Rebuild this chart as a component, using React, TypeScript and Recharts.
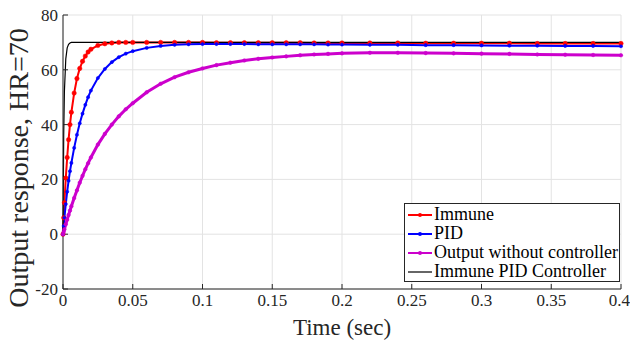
import { LineChart, Line, XAxis, YAxis, CartesianGrid } from "recharts";

const time = [
  0, 0.0005, 0.001, 0.002, 0.003, 0.004, 0.005, 0.006, 0.008, 0.01, 0.012, 0.014, 0.016, 0.018,
  0.02, 0.025, 0.03, 0.035, 0.04, 0.045, 0.05, 0.06, 0.07, 0.08, 0.09, 0.1, 0.11, 0.12, 0.13,
  0.14, 0.15, 0.16, 0.17, 0.18, 0.19, 0.2, 0.22, 0.24, 0.26, 0.28, 0.3, 0.32, 0.34, 0.36, 0.38,
  0.4,
];

const immune = [
  0, 6, 11.5, 20.5, 28, 34.5, 40, 44.5, 51.5, 56.8, 60.5, 63.1, 65, 66.5, 67.5, 68.9, 69.5, 69.8,
  70, 70, 70, 70, 70, 70, 70, 70, 69.9, 69.9, 69.9, 69.9, 69.9, 69.9, 69.9, 69.8, 69.8, 69.8,
  69.8, 69.8, 69.7, 69.7, 69.7, 69.7, 69.6, 69.6, 69.6, 69.6,
];

const pid = [
  0, 3, 6, 11, 15.5, 19.5, 23, 26, 31.5, 36.3, 40.5, 44, 47.2, 50, 52.4, 57, 60.3, 62.8, 64.6,
  65.9, 66.8, 68, 68.7, 69.1, 69.3, 69.4, 69.4, 69.4, 69.4, 69.3, 69.3, 69.3, 69.3, 69.3, 69.2,
  69.2, 69.1, 69.1, 69, 69, 68.9, 68.8, 68.8, 68.7, 68.7, 68.6,
];

const noController = [
  0, 0.9, 1.8, 3.6, 5.3, 7, 8.6, 10.2, 13.2, 16, 18.8, 21.3, 23.7, 25.9, 28, 32.7, 36.6, 40,
  43, 45.6, 47.8, 51.8, 54.9, 57.3, 59.1, 60.5, 61.7, 62.6, 63.4, 64, 64.5, 64.9, 65.3, 65.6,
  65.8, 66, 66.2, 66.2, 66.1, 66, 65.9, 65.8, 65.6, 65.5, 65.4, 65.3,
];

const immunePid = [
  0, 36, 52, 64, 68, 69.3, 69.8, 70, 70, 70, 70, 70, 70, 70, 70, 70, 70, 70, 70, 70, 70, 70, 70,
  70, 70, 70, 70, 70, 70, 70, 70, 70, 70, 70, 70, 70, 70, 70, 70, 70, 70, 70, 70, 70, 70, 70,
];

const xTicks = [0, 0.05, 0.1, 0.15, 0.2, 0.25, 0.3, 0.35, 0.4];
const yTicks = [-20, 0, 20, 40, 60, 80];

const data = time.map((t, i) => ({
  t,
  immune: immune[i],
  pid: pid[i],
  noController: noController[i],
  immunePid: immunePid[i],
}));

const series = [
  { key: "immune", name: "Immune", color: "#ff0000", dot: 2.2, width: 2 },
  { key: "pid", name: "PID", color: "#0000ff", dot: 1.6, width: 2 },
  { key: "noController", name: "Output without controller", color: "#cc00cc", dot: 1.8, width: 3 },
  { key: "immunePid", name: "Immune PID Controller", color: "#000000", dot: 0, width: 1.2 },
];

const font = "'Liberation Serif', 'DejaVu Serif', serif";
const axisColor = "#262626";

function LegendBox() {
  return (
    <div
      style={{
        position: "absolute",
        left: 404,
        top: 203,
        width: 214,
        height: 76,
        boxSizing: "content-box",
        background: "#fff",
        border: `1px solid ${axisColor}`,
        fontFamily: font,
        fontSize: 18,
        color: "#000",
        lineHeight: "19px",
        paddingTop: 1,
      }}
    >
      {series.map((s) => (
        <div key={s.key} style={{ display: "flex", alignItems: "center", whiteSpace: "nowrap", height: 19 }}>
          <svg width={24} height={10} style={{ marginLeft: 3, marginRight: 2 }}>
            <line x1={0} y1={5} x2={24} y2={5} stroke={s.color} strokeWidth={s.dot ? 2 : 1.2} />
            {s.dot ? <circle cx={12} cy={5} r={2} fill={s.color} /> : null}
          </svg>
          <span>{s.name}</span>
        </div>
      ))}
    </div>
  );
}

function YLabel(props: any) {
  const vb = props.viewBox || { x: 0, y: 15, width: 63, height: 274 };
  const cx = vb.x + 18;
  const cy = vb.y + vb.height / 2 + 16;
  return (
    <text
      x={cx}
      y={cy}
      transform={`rotate(-90, ${cx}, ${cy})`}
      textAnchor="middle"
      dominantBaseline="central"
      fill={axisColor}
      fontSize={28}
      fontFamily={font}
    >
      Output response, HR=70
    </text>
  );
}

export default function App() {
  return (
    <div style={{ position: "absolute", left: 0, top: 0, width: 630, height: 340, background: "#fff" }}>
      <style>{`.recharts-text, .recharts-label { font-family: ${font}; }`}</style>
      <LineChart
        width={630}
        height={340}
        data={data}
        margin={{ top: 15, right: 9, bottom: 0, left: 0 }}
        style={{ fontFamily: font }}
      >
        <CartesianGrid stroke="#e3e3e3" strokeWidth={1} />
        <XAxis
          dataKey="t"
          type="number"
          domain={[0, 0.4]}
          ticks={xTicks}
          height={51}
          tickSize={-5}
          tickMargin={10}
          stroke={axisColor}
          tick={{ fill: axisColor, fontSize: 17, fontFamily: font }}
          label={{ value: "Time (sec)", position: "insideBottom", offset: 5, fill: axisColor, fontSize: 23, fontFamily: font }}
        />
        <XAxis
          xAxisId="top"
          dataKey="t"
          type="number"
          domain={[0, 0.4]}
          ticks={xTicks}
          orientation="top"
          height={0}
          tickSize={-5}
          tick={false}
          stroke={axisColor}
        />
        <YAxis
          type="number"
          domain={[-20, 80]}
          ticks={yTicks}
          width={63}
          tickSize={-5}
          tickMargin={10}
          stroke={axisColor}
          tick={{ fill: axisColor, fontSize: 17, fontFamily: font }}
          label={(p: any) => <YLabel {...p} />}
        />
        <YAxis
          yAxisId="right"
          type="number"
          domain={[-20, 80]}
          ticks={yTicks}
          orientation="right"
          width={0}
          tickSize={-5}
          tick={false}
          stroke={axisColor}
        />
        {series.map((s) => (
          <Line
            key={s.key}
            dataKey={s.key}
            name={s.name}
            type="linear"
            stroke={s.color}
            strokeWidth={s.width}
            dot={s.dot ? { r: s.dot, fill: s.color, stroke: s.color, strokeWidth: 0.5 } : false}
            activeDot={false}
            isAnimationActive={false}
          />
        ))}
      </LineChart>
      <LegendBox />
    </div>
  );
}
